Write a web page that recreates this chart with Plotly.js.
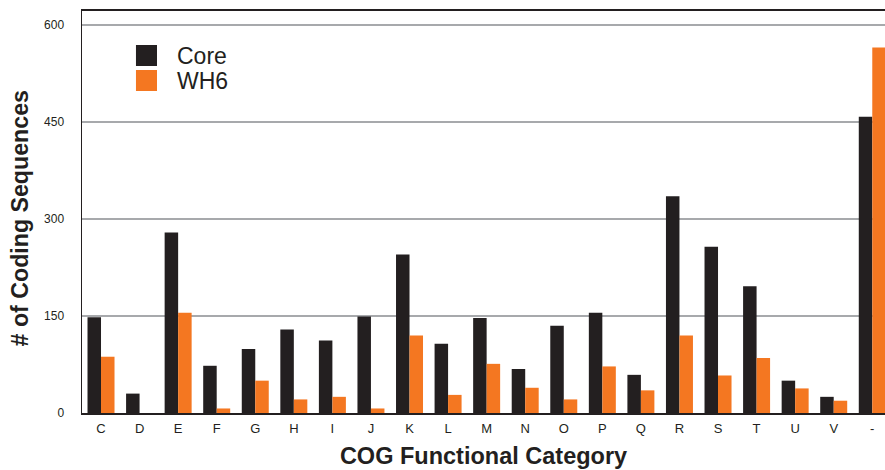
<!DOCTYPE html>
<html>
<head>
<meta charset="utf-8">
<script src="https://cdn.plot.ly/plotly-3.0.1.min.js"></script>
<style>html,body{margin:0;padding:0;background:#fff;}#chart{width:885px;height:470px;}</style>
</head>
<body>
<div id="chart"></div>
<script>
const categories = ["C","D","E","F","G","H","I","J","K","L","M","N","O","P","Q","R","S","T","U","V","-"];
const coreValues = [148,30,279,73,99,129,112,149,245,107,147,68,135,155,59,335,257,196,50,25,458];
const wh6Values  = [87,0,155,7,50,21,25,7,120,28,76,39,21,72,35,120,58,85,38,19,565];
const seriesNames = ["Core","WH6"];
const yTicks = [0,150,300,450,600];
const xTitle = "COG Functional Category";
const yTitle = "# of Coding Sequences";

const coreColor = "#231f20";
const wh6Color = "#f47721";
const textColor = "#231f20";
const seriesColors = [coreColor, wh6Color];

const traces = [
  {type:"bar", x:categories, y:coreValues, name:seriesNames[0], marker:{color:coreColor}, showlegend:false},
  {type:"bar", x:categories, y:wh6Values, name:seriesNames[1], marker:{color:wh6Color}, showlegend:false}
];

// custom legend (swatches + labels) in paper coordinates
const legendSwatchX = [0.0672, 0.0934];
const legendSwatchY = [[0.9154, 0.8632], [0.8532, 0.8010]];
const legendTextX = 0.1158;
const shapes = seriesNames.map((n, i) => ({
  type:"rect", xref:"paper", yref:"paper",
  x0:legendSwatchX[0], x1:legendSwatchX[1], y0:legendSwatchY[i][1], y1:legendSwatchY[i][0],
  fillcolor:seriesColors[i], line:{width:0}
}));
const annotations = seriesNames.map((n, i) => ({
  xref:"paper", yref:"paper", x:legendTextX, y:(legendSwatchY[i][0] + legendSwatchY[i][1]) / 2,
  xanchor:"left", yanchor:"middle", showarrow:false, text:n,
  font:{size:23, color:textColor}
}));
// y-axis title
annotations.push({
  xref:"paper", yref:"paper", x:-0.0772, y:0.484, xanchor:"center", yanchor:"middle",
  textangle:-90, showarrow:false, text:yTitle,
  font:{size:23.2, color:textColor, weight:"bold"}
});

const layout = {
  width:885, height:470,
  margin:{l:82, r:0, t:11, b:57},
  paper_bgcolor:"#fff", plot_bgcolor:"#fff",
  font:{family:"Liberation Sans, Arial, sans-serif", color:textColor},
  barmode:"group", bargap:0.3, bargroupgap:0,
  showlegend:false,
  shapes:shapes,
  annotations:annotations,
  xaxis:{
    type:"category", range:[-0.493, 20.33], fixedrange:true,
    showline:true, linecolor:"#231f20", linewidth:2, mirror:true,
    ticks:"", ticklabelstandoff:2, tickfont:{size:13, color:textColor}, showgrid:false, zeroline:false,
    title:{text:xTitle, font:{size:23.5, color:textColor, weight:"bold"}, standoff:13},
    automargin:false
  },
  yaxis:{
    range:[0, 621.5], fixedrange:true,
    tickvals:yTicks, ticktext:yTicks.map(String), tickfont:{size:12, color:textColor},
    showline:true, linecolor:"#231f20", linewidth:1.5,
    ticks:"", ticklabelstandoff:14,
    showgrid:true, gridcolor:"#a7a9ac", gridwidth:2, zeroline:false,
    automargin:false
  }
};

Plotly.newPlot("chart", traces, layout, {displayModeBar:false, staticPlot:true});
</script>
</body>
</html>
